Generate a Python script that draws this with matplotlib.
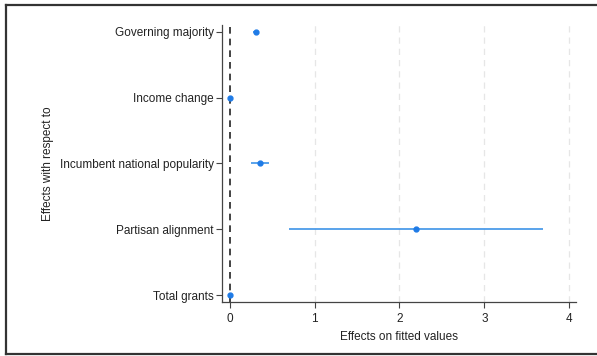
import matplotlib
matplotlib.use("Agg")
import matplotlib.pyplot as plt
from matplotlib.lines import Line2D

categories = ["Governing majority", "Income change", "Incumbent national popularity",
              "Partisan alignment", "Total grants"]
estimates = [0.31, 0.01, 0.355, 2.19, 0.01]
ci_low = [0.27, 0.00, 0.25, 0.70, 0.00]
ci_high = [0.35, 0.03, 0.46, 3.69, 0.02]
xticks = [0, 1, 2, 3, 4]

plt.rcParams['font.family'] = ['Liberation Sans', 'DejaVu Sans']

fig = plt.figure(figsize=(5.97, 3.56), dpi=100)
W, H = 597, 356
ax = fig.add_axes([222 / W, 1 - 302 / H, (576 - 222) / W, (302 - 25) / H])

n = len(categories)
ypos = [n - i for i in range(n)]
blue = '#1f7be6'
line_blue = '#3d93e8'
txt = '#222222'

for xv in xticks[1:]:
    ax.axvline(xv, color='#e6e6e6', lw=0.9, ls=(0, (5, 4)), zorder=0)
ax.axvline(0, color='#222222', lw=1.2, ls=(0, (4, 3)), zorder=1)

for y, e, lo, hi in zip(ypos, estimates, ci_low, ci_high):
    ax.plot([lo, hi], [y, y], color=line_blue, lw=1.2, zorder=2, solid_capstyle='butt')
    ax.plot([e], [y], marker='o', ms=3.5, color=blue, mec=blue, zorder=3)

ax.set_xlim(-0.09, 4.08)
ax.set_ylim(0.9, 5.1)
ax.set_yticks(ypos)
ax.set_yticklabels(categories)
ax.set_xticks(xticks)
ax.set_xticklabels([str(v) for v in xticks])
ax.tick_params(axis='both', labelsize=8.5, color='#444444', length=4, width=0.8,
               labelcolor=txt)
ax.tick_params(axis='x', pad=4)
ax.tick_params(axis='y', pad=2)
for s in ['top', 'right']:
    ax.spines[s].set_visible(False)
for s in ['left', 'bottom']:
    ax.spines[s].set_color('#444444')
    ax.spines[s].set_linewidth(0.9)

ax.set_xlabel("Effects on fitted values", fontsize=8.5, labelpad=4, color=txt)
ax.set_ylabel("Effects with respect to", fontsize=8.5, labelpad=4, color=txt)

# figure frame (top, left, bottom)
frame_kw = dict(color='#333333', lw=1.6, transform=fig.transFigure)
fig.add_artist(Line2D([6 / W, 1.0], [1 - 5 / H, 1 - 5 / H], **frame_kw))
fig.add_artist(Line2D([6 / W, 6 / W], [1 - 5 / H, 1 - 354 / H], **frame_kw))
fig.add_artist(Line2D([6 / W, 1.0], [1 - 354 / H, 1 - 354 / H], **frame_kw))

fig.savefig("out.png", dpi=100)
